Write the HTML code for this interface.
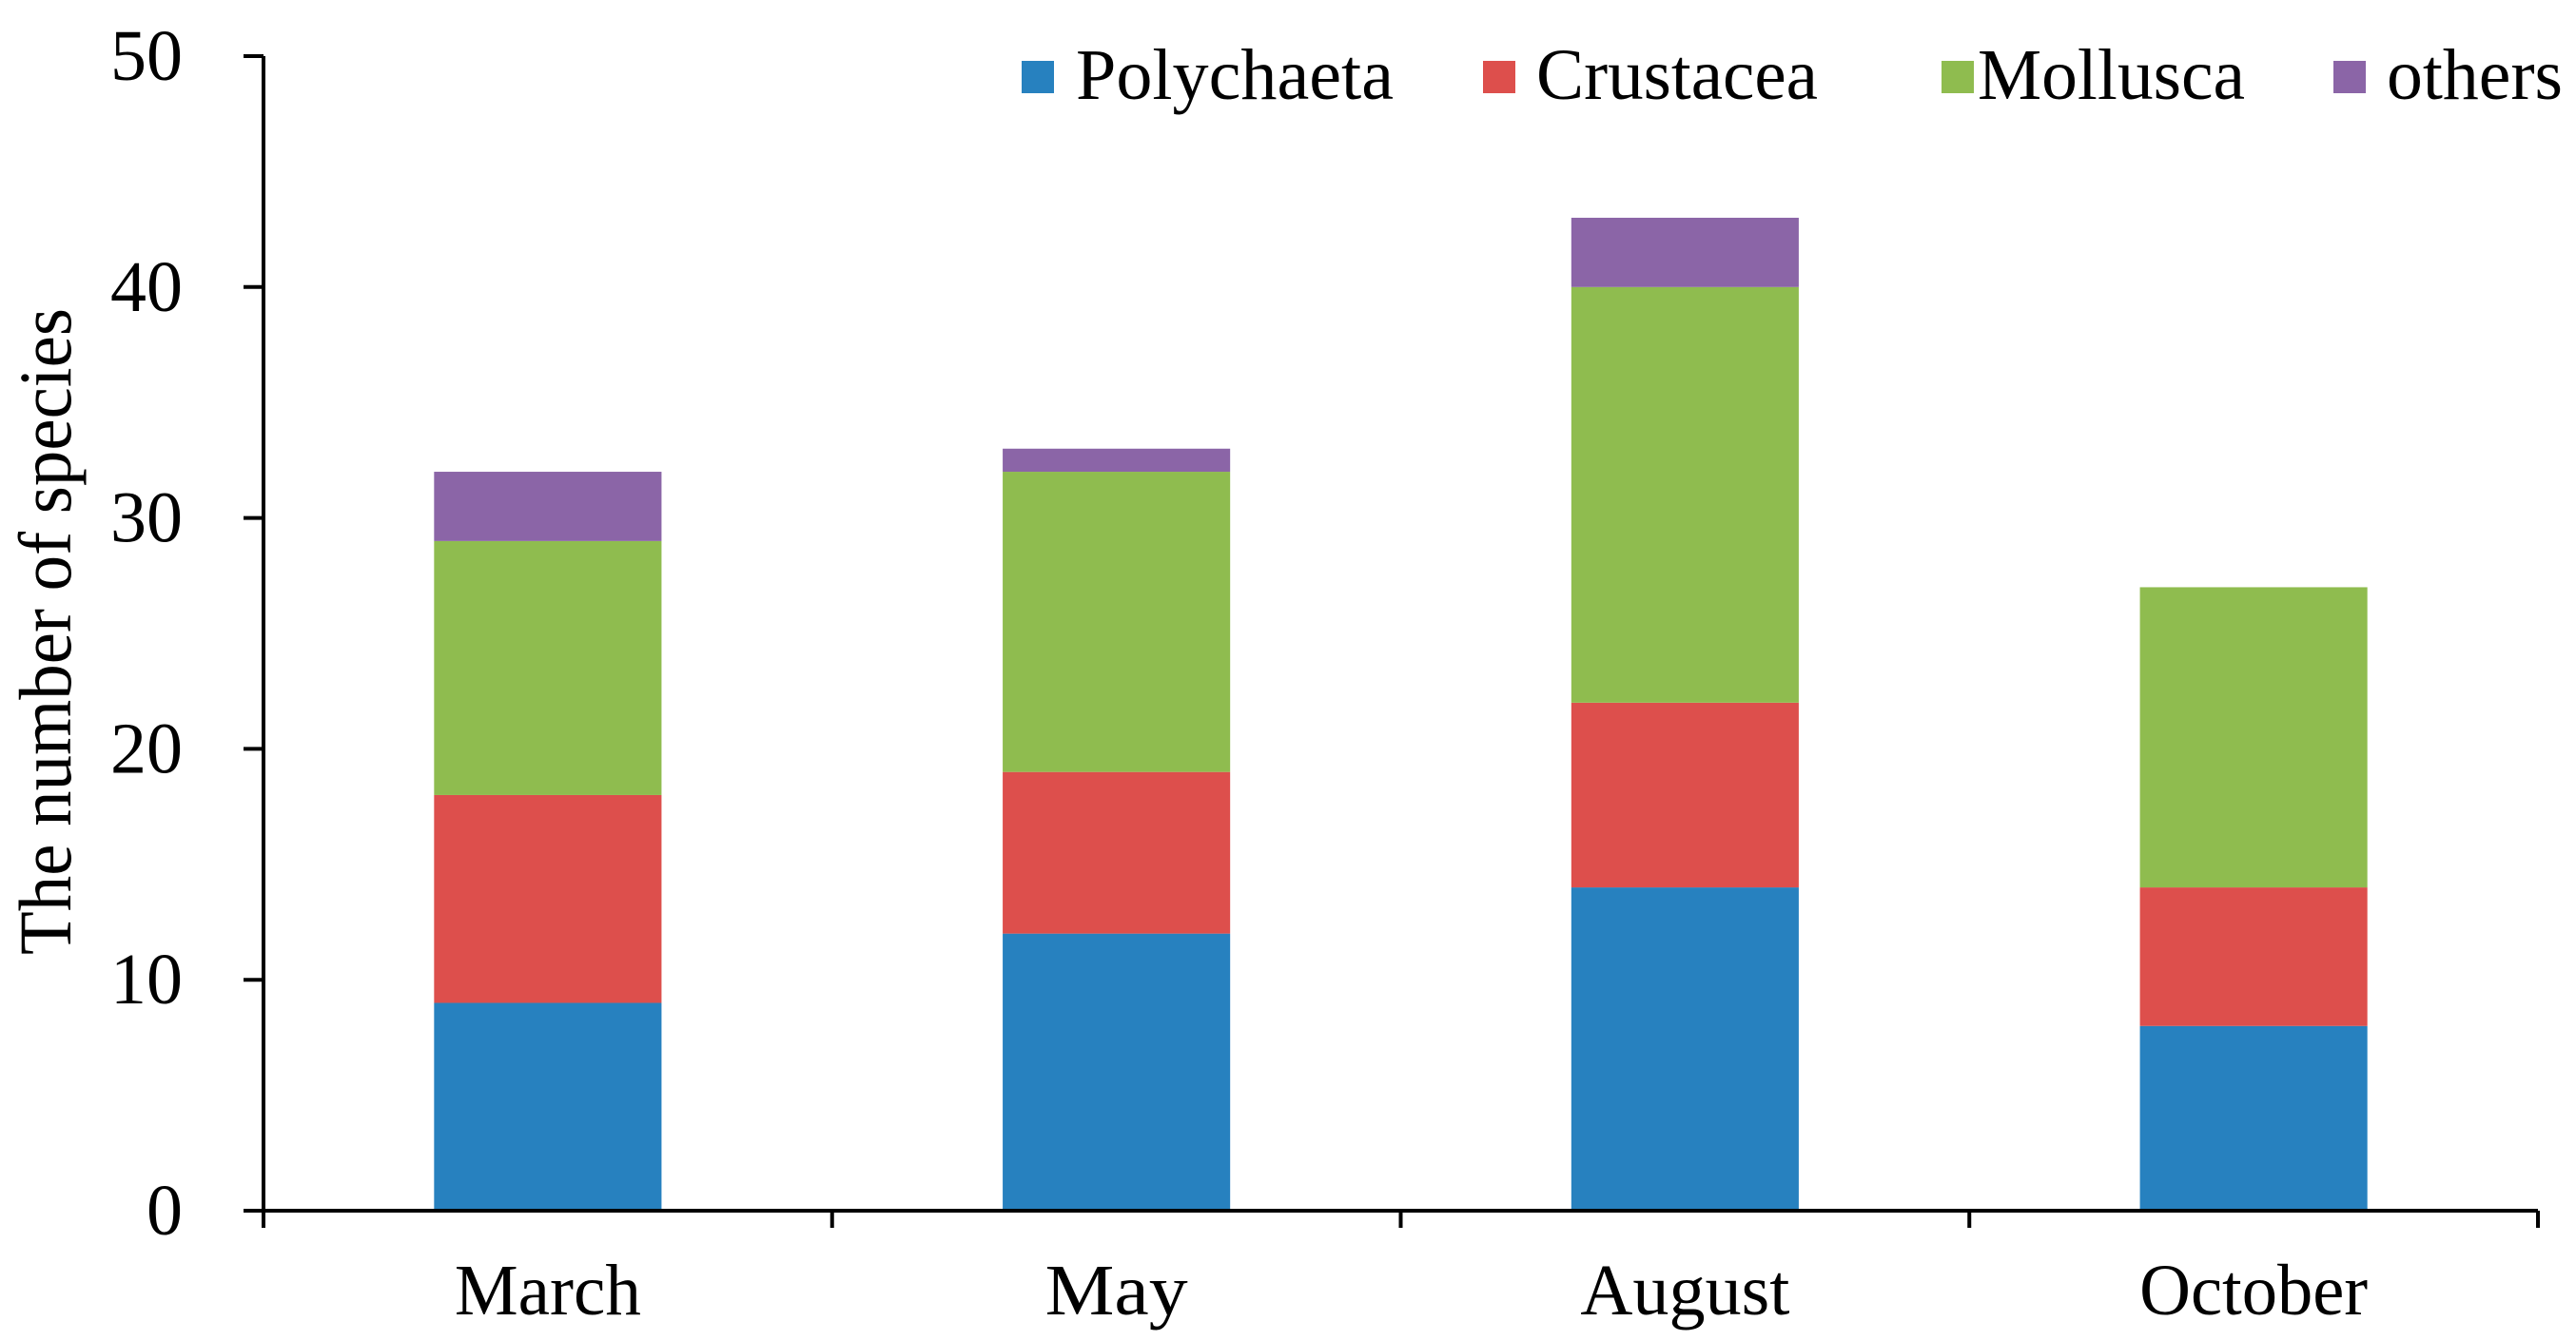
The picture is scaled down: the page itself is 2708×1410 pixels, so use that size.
<!DOCTYPE html>
<html><head><meta charset="utf-8"><style>
html,body{margin:0;padding:0;background:#fff;}
svg{display:block;font-family:"Liberation Serif",serif;}
</style></head><body>
<svg id="chart" width="2708" height="1410" viewBox="0 0 2708 1410">
<g id="bars"></g>
<g id="axes"></g>
<g id="legend"></g>
<text x="0" y="0" transform="translate(74,664) rotate(-90)" text-anchor="middle" font-size="78" textLength="680" lengthAdjust="spacingAndGlyphs">The number of species</text>
</svg>
<script>
const categories = ["March","May","August","October"];
const seriesNames = ["Polychaeta","Crustacea","Mollusca","others"];
const polychaeta = [9,12,14,8];
const crustacea = [9,7,8,6];
const mollusca = [11,13,18,13];
const others = [3,1,3,0];
const yTicks = [0,10,20,30,40,50];
const colors = ["#2781bf","#dd4f4c","#8fbc4f","#8b65a7"];

const NS="http://www.w3.org/2000/svg";
const X0=277, X1=2668, Y0=1273, Y50=59;
const bandW=(X1-X0)/categories.length;
function y(v){return Y0-(v/50)*(Y0-Y50);}
function xc(i){return X0+bandW*(i+0.5);}
function mk(tag,attrs,parent){const e=document.createElementNS(NS,tag);for(const k in attrs)e.setAttribute(k,attrs[k]);parent.appendChild(e);return e;}
const bars=document.getElementById('bars'),axes=document.getElementById('axes'),legend=document.getElementById('legend');
const series=[polychaeta,crustacea,mollusca,others];
const bw=bandW*0.4;
const catW=[196,150,220,240];
categories.forEach((c,i)=>{
  let base=0;
  series.forEach((s,j)=>{
    const v=s[i]; if(v<=0) return;
    const r=mk('rect',{x:xc(i)-bw/2,y:y(base+v),width:bw,height:y(base)-y(base+v),fill:colors[j]},bars);
    
    
    base+=v;
  });
  const t=mk('text',{x:xc(i),y:1382,'text-anchor':'middle','font-size':76,textLength:catW[i],lengthAdjust:'spacingAndGlyphs'},axes);
  t.textContent=c;
  
  
});
let l=mk('line',{x1:X0,y1:Y50,x2:X0,y2:Y0+1,stroke:'#000','stroke-width':4},axes);


l=mk('line',{x1:X0-2,y1:Y0,x2:X1,y2:Y0,stroke:'#000','stroke-width':4},axes);


for(let i=0;i<=categories.length;i++){
  const tk=mk('line',{x1:X0+bandW*i,y1:Y0,x2:X0+bandW*i,y2:Y0+18,stroke:'#000','stroke-width':4},axes);
  
  
}
yTicks.forEach(v=>{
  const tk=mk('line',{x1:X0-21,y1:y(v),x2:X0,y2:y(v),stroke:'#000','stroke-width':4},axes);
  
  
  const t=mk('text',{x:192,y:y(v)+25,'text-anchor':'end','font-size':76},axes);
  t.textContent=v;
  
  
});
const legX=[1074,1559,2041,2453], legTX=[1131,1615,2079,2509], legTW=[334,296,281,185];
seriesNames.forEach((n,j)=>{
  const g=mk('g',{},legend);
  
  
  mk('rect',{x:legX[j],y:64,width:34,height:34,fill:colors[j]},g);
  const t=mk('text',{x:legTX[j],y:104,'font-size':76,textLength:legTW[j],lengthAdjust:'spacingAndGlyphs'},g);
  t.textContent=n;
});
</script>
</body></html>
